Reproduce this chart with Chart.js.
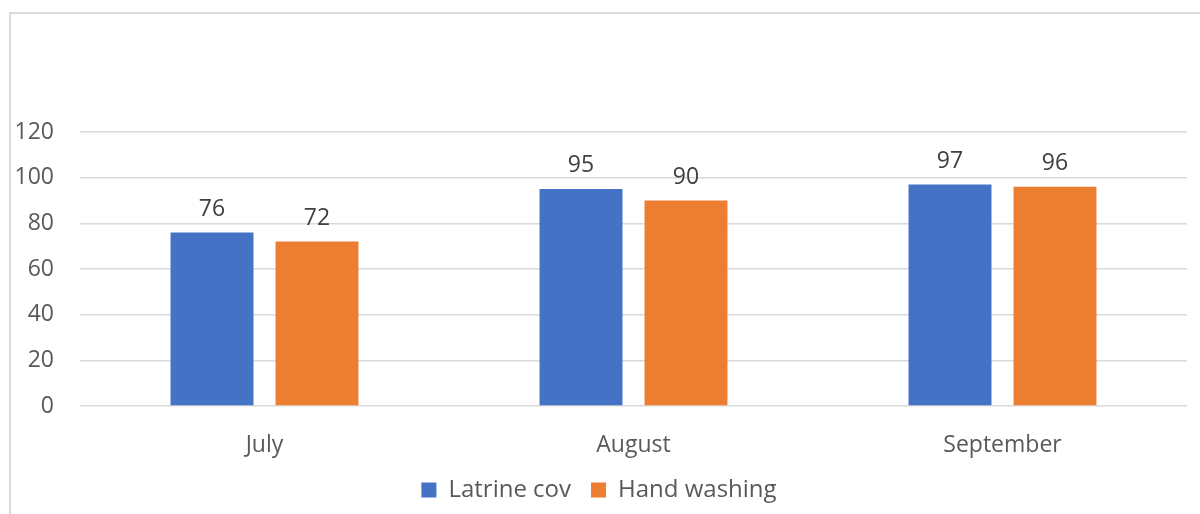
<!DOCTYPE html>
<html>
<head>
<meta charset="utf-8">
<script src="https://cdn.jsdelivr.net/npm/chart.js@4.4.1/dist/chart.umd.min.js"></script>
<style>
  body { margin: 0; background: #fff; overflow: hidden; }
  #frame {
    position: absolute; left: 9px; top: 12px;
    width: 1191px; height: 502px;
    border-left: 2px solid #d9d9d9; border-top: 2px solid #d9d9d9;
  }
  #frame canvas { display: block; }
</style>
</head>
<body>
<div id="frame"><canvas id="chart" width="1189" height="500"></canvas></div>
<script>
const months = ['July', 'August', 'September'];
const latrineCov = [76, 95, 97];
const handWashing = [72, 90, 96];
const yTicks = [0, 20, 40, 60, 80, 100, 120];

const fontFamily = "'Open Sans', 'Liberation Sans', sans-serif";

// draws the value above each bar, like excel data labels
const barValues = {
    id: 'barValues',
    afterDatasetsDraw(chart) {
        let ctx = chart.ctx;
        ctx.save();
        ctx.font = '23px ' + fontFamily;
        ctx.fillStyle = '#404040';
        ctx.textAlign = 'center';
        ctx.textBaseline = 'bottom';
        chart.data.datasets.forEach((ds, i) => {
            chart.getDatasetMeta(i).data.forEach((bar, j) => {
                ctx.fillText(ds.data[j], bar.x, bar.y - 12);
            });
        });
        ctx.restore();
    }
};

new Chart(document.getElementById('chart'), {
    type: 'bar',
    data: {
        labels: months,
        datasets: [{
            label: 'Latrine cov',
            data: latrineCov,
            backgroundColor: '#4472C4',
            categoryPercentage: 0.569,
            barPercentage: 0.79
        }, {
            label: 'Hand washing',
            data: handWashing,
            backgroundColor: '#ED7D31',
            categoryPercentage: 0.569,
            barPercentage: 0.79
        }]
    },
    options: {
        responsive: false,
        animation: false,
        layout: { padding: { top: 118, right: 13, left: 0, bottom: 2 } },
        scales: {
            x: {
                afterFit: (scale) => { scale.height = 52; },
                grid: { display: false, drawTicks: false },
                border: { display: false },
                ticks: { color: '#595959', font: { family: fontFamily, size: 23 }, padding: 26 }
            },
            y: {
                min: 0,
                max: 120,
                afterBuildTicks: (scale) => { scale.ticks = yTicks.map(v => ({ value: v })); },
                afterFit: (scale) => { scale.width = 69; },
                grid: { color: '#d9d9d9', lineWidth: 1.5, drawTicks: false },
                border: { display: false },
                ticks: { color: '#595959', font: { family: fontFamily, size: 23 }, padding: 26 }
            }
        },
        plugins: {
            legend: {
                position: 'bottom',
                labels: {
                    color: '#595959',
                    font: { family: fontFamily, size: 24 },
                    boxWidth: 15,
                    boxHeight: 15,
                    padding: 20
                }
            },
            tooltip: { enabled: false }
        }
    },
    plugins: [barValues]
});
</script>
</body>
</html>
